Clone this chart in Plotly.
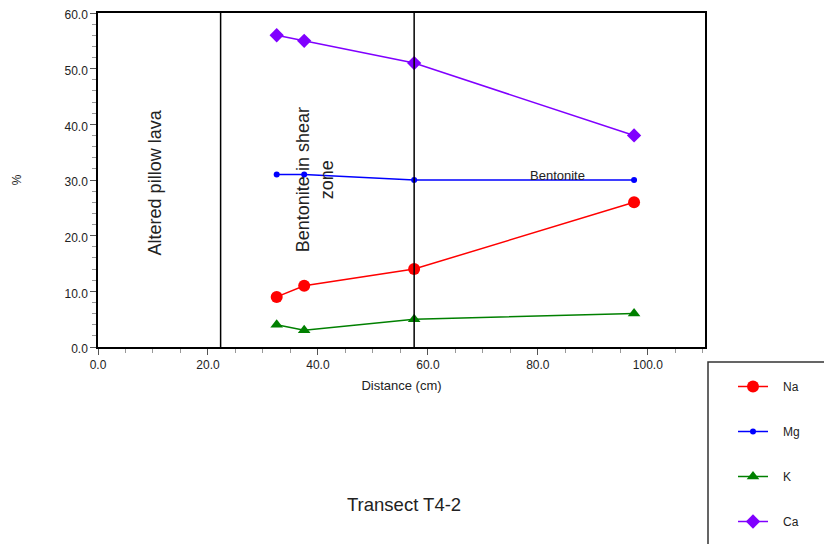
import plotly.graph_objects as go

distance = [32.5, 37.5, 57.5, 97.5]
na = [9, 11, 14, 26]
mg = [31, 31, 30, 30]
k = [4, 3, 5, 6]
ca = [56, 55, 51, 38]
boundaries = [22.3, 57.5]
x_ticks = [0, 20, 40, 60, 80, 100]
y_ticks = [0, 10, 20, 30, 40, 50, 60]

W, H = 832, 544
OFF = 8  # page body margin
PL, PR, PT, PB = 98 - OFF, 705 - OFF, 13 - OFF, 347 - OFF  # plot area px


def fx(xp):
    return (xp - OFF) / W


def fy(yp):
    return (H - (yp - OFF)) / H


fig = go.Figure()
series = [
    ("Na", na, "#ff0000", "circle", 12),
    ("Mg", mg, "#0000ff", "circle", 6),
    ("K", k, "#008000", "triangle-up", 11),
    ("Ca", ca, "#8000ff", "diamond", 11),
]
pad = "\u00a0" * 3
for name, vals, col, sym, sz in series:
    fig.add_trace(go.Scatter(
        x=distance, y=vals, name=pad + name, mode="lines+markers",
        line=dict(color=col, width=1.5),
        marker=dict(color=col, symbol=sym, size=sz),
        legendgroup=name, cliponaxis=False,
    ))

for b in boundaries:
    fig.add_shape(type="line", xref="x", yref="y", x0=b, x1=b, y0=0, y1=60,
                  line=dict(color="black", width=1.5))

font = dict(family="Liberation Sans, Arial, sans-serif", color="#222")
fig.add_annotation(x=10.4, y=29.6, text="Altered pillow lava", textangle=-90,
                   showarrow=False, font=dict(size=18, **font))
fig.add_annotation(x=39.5, y=30.0, text="Bentonite in shear<br>zone", textangle=-90,
                   showarrow=False, font=dict(size=18, **font))
fig.add_annotation(x=83.6, y=30.8, text="Bentonite",
                   showarrow=False, font=dict(size=13, **font))

fig.add_annotation(xref="paper", yref="paper", x=fx(404), y=fy(517),
                   text="Transect T4-2", showarrow=False,
                   font=dict(size=18.5, **font))

fig.add_shape(type="rect", xref="paper", yref="paper",
              x0=fx(708), x1=fx(860), y0=fy(570), y1=fy(362),
              line=dict(color="#333", width=1.5), fillcolor="white", layer="below")

fig.update_layout(
    width=W, height=H,
    margin=dict(l=0, r=0, t=0, b=0),
    paper_bgcolor="white", plot_bgcolor="white",
    font=dict(size=12, **font),
    showlegend=True,
    legend=dict(x=fx(733), y=fy(372), xanchor="left", yanchor="top",
                bgcolor="rgba(0,0,0,0)", borderwidth=0,
                tracegroupgap=26, font=dict(size=12, **font),
                itemwidth=30),
    xaxis=dict(domain=[PL / W, PR / W], range=[0, 110.4], tickvals=x_ticks,
               ticktext=[f"{v:.1f}" for v in x_ticks], automargin=False,
               ticklabeloverflow="allow",
               showgrid=False, zeroline=False, showline=True, linecolor="black",
               linewidth=1.5, mirror=True, ticks="outside", ticklen=6,
               tickcolor="#555",
               minor=dict(dtick=5, ticks="outside", ticklen=4, tickcolor="#999"),
               title=dict(text="Distance (cm)", font=dict(size=13, **font), standoff=10)),
    yaxis=dict(domain=[(H - PB) / H, (H - PT) / H], range=[0, 60], tickvals=y_ticks,
               ticktext=[f"{v:.1f}" for v in y_ticks], automargin=False,
               ticklabeloverflow="allow", ticklabelshift=2,
               showgrid=False, zeroline=False, showline=True, linecolor="black",
               linewidth=1.5, mirror=True, ticks="outside", ticklen=6,
               tickcolor="#555",
               minor=dict(dtick=2, ticks="outside", ticklen=4, tickcolor="#999"),
               title=dict(text="%", font=dict(size=12, **font), standoff=40)),
)

fig.write_html("out.html")
